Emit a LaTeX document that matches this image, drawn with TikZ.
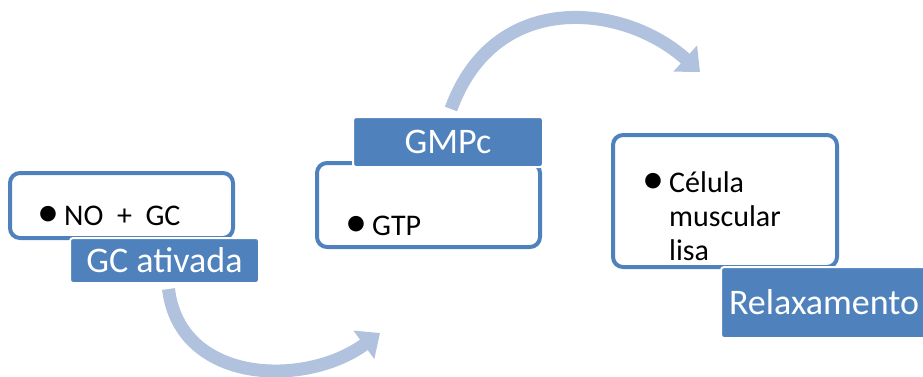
\documentclass[tikz,border=0pt]{standalone}
\usepackage{fontspec}
\setmainfont{Carlito}
\usepackage{tikz}
\usetikzlibrary{arrows.meta,positioning}
\definecolor{boxblue}{RGB}{79,129,189}
\definecolor{arcblue}{RGB}{176,194,222}
\newcommand{\itembul}{\makebox[26.5pt][l]{\raisebox{-1pt}{\fontsize{44}{44}\selectfont •}}}

\begin{document}
\begin{tikzpicture}[x=1pt,y=1pt,
  listbox/.style={draw=boxblue,line width=4pt,rounded corners=10pt,fill=white},
  headbox/.style={draw=white,line width=2pt,fill=boxblue,rounded corners=3pt,
    text=white,font=\fontsize{36}{40}\selectfont},
  itemtxt/.style={anchor=base west,inner sep=0pt,align=left,
    font=\fontsize{30}{34}\selectfont},
  turnarrow/.style={draw=arcblue,line width=13pt,-{Triangle[width=34pt,length=20pt]}}]
  \useasboundingbox (0,0) rectangle (923,376);
  % white boxes
  \node[listbox,minimum width=223pt,minimum height=65pt] (nogc) at (121.5,170.5) {};
  \node[listbox,minimum width=223pt,minimum height=84pt] (gtpbox) at (428.5,171) {};
  \node[listbox,minimum width=224pt,minimum height=132pt] (celbox) at (725,175) {};
  % blue titles
  \node[headbox,minimum width=189pt,minimum height=45pt] (gcativ) at (164.5,115.5) {GC ativada};
  \node[headbox,minimum width=190pt,minimum height=50pt] (gmpc) at (448,234) {GMPc};
  \node[headbox,anchor=west,inner xsep=8pt,minimum height=71pt] (relax) at (720,73.5) {Relaxamento};
  % items (base = last line)
  \node[itemtxt] (notxt) at (37.5,151) {\itembul NO\ \ +\ \ GC};
  \node[itemtxt] (gtptxt) at (345.5,141) {\itembul GTP};
  \node[itemtxt] (celtxt) at (642.5,116) {\itembul Célula\\\hspace*{26.5pt}muscular\\\hspace*{26.5pt}lisa};
  % arrows
  \coordinate (a1end) at (380,43);
  \coordinate (a2end) at (700,304);
  \draw[turnarrow] ([xshift=4pt,yshift=-5pt]gcativ.south) .. controls (180,-8) and (305,-12) .. (a1end);
  \draw[turnarrow] ([xshift=3pt,yshift=7pt]gmpc.north) .. controls (495,388) and (625,372) .. (a2end);
  %\node at (461,10) {};
\end{tikzpicture}
\end{document}
